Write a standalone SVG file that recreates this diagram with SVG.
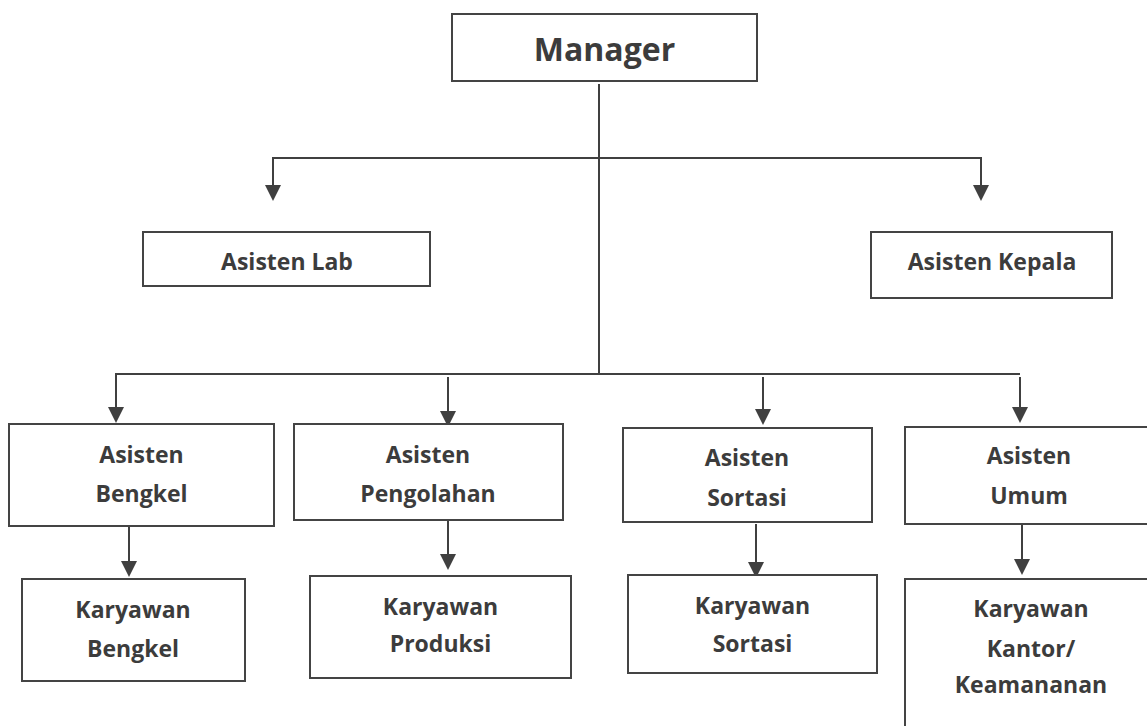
<svg xmlns="http://www.w3.org/2000/svg" width="1147" height="726" viewBox="0 0 1147 726">
  <style>
    .box { fill: #ffffff; stroke: #444444; stroke-width: 2; }
    .lbl { font-family: "Open Sans", "Noto Sans", "Liberation Sans", sans-serif; font-weight: bold; font-size: 23px; fill: #3c3c3c; text-anchor: middle; }
    .big { font-size: 32px; }
    .conn { fill: none; stroke: #404040; stroke-width: 2; }
  </style>
  <defs>
    <marker id="arrow" viewBox="0 0 16 16" refX="12" refY="8" markerWidth="16" markerHeight="16" markerUnits="userSpaceOnUse" orient="auto">
      <path d="M0,0 L16,8 L0,16 z" fill="#404040"/>
    </marker>
  </defs>
  <rect width="1147" height="726" fill="#ffffff"/>

  <g id="connectors">
    <line class="conn" x1="599" y1="84" x2="599" y2="374"/>
    <path class="conn" d="M599,158 L273,158 L273,197" marker-end="url(#arrow)"/>
    <path class="conn" d="M599,158 L981,158 L981,197" marker-end="url(#arrow)"/>
    <path class="conn" d="M1020,374 L116,374 L116,419" marker-end="url(#arrow)"/>
    <line class="conn" x1="448" y1="377" x2="448" y2="423" marker-end="url(#arrow)"/>
    <line class="conn" x1="763" y1="377" x2="763" y2="421" marker-end="url(#arrow)"/>
    <line class="conn" x1="1020" y1="377" x2="1020" y2="419" marker-end="url(#arrow)"/>
    <line class="conn" x1="129" y1="526" x2="129" y2="573" marker-end="url(#arrow)"/>
    <line class="conn" x1="448" y1="520" x2="448" y2="566" marker-end="url(#arrow)"/>
    <line class="conn" x1="756" y1="524" x2="756" y2="574" marker-end="url(#arrow)"/>
    <line class="conn" x1="1022" y1="524" x2="1022" y2="571" marker-end="url(#arrow)"/>
  </g>

  <g id="manager">
    <rect class="box" x="452" y="14" width="305" height="67"/>
    <text class="lbl big" x="604.5" y="61">Manager</text>
  </g>

  <g id="asisten-lab">
    <rect class="box" x="143" y="232" width="287" height="54"/>
    <text class="lbl" x="287" y="270">Asisten Lab</text>
  </g>

  <g id="asisten-kepala">
    <rect class="box" x="871" y="232" width="241" height="66"/>
    <text class="lbl" x="992" y="270">Asisten Kepala</text>
  </g>

  <g id="asisten-bengkel">
    <rect class="box" x="9" y="424" width="265" height="102"/>
    <text class="lbl" x="141.5" y="463">Asisten</text>
    <text class="lbl" x="141.5" y="502">Bengkel</text>
  </g>

  <g id="asisten-pengolahan">
    <rect class="box" x="294" y="424" width="269" height="96"/>
    <text class="lbl" x="428" y="463">Asisten</text>
    <text class="lbl" x="428" y="502">Pengolahan</text>
  </g>

  <g id="asisten-sortasi">
    <rect class="box" x="623" y="428" width="249" height="94"/>
    <text class="lbl" x="747" y="466">Asisten</text>
    <text class="lbl" x="747" y="506">Sortasi</text>
  </g>

  <g id="asisten-umum">
    <rect class="box" x="905" y="427" width="260" height="97"/>
    <text class="lbl" x="1029" y="464">Asisten</text>
    <text class="lbl" x="1029" y="504">Umum</text>
  </g>

  <g id="karyawan-bengkel">
    <rect class="box" x="22" y="579" width="223" height="102"/>
    <text class="lbl" x="133" y="618">Karyawan</text>
    <text class="lbl" x="133" y="657">Bengkel</text>
  </g>

  <g id="karyawan-produksi">
    <rect class="box" x="310" y="576" width="261" height="102"/>
    <text class="lbl" x="440.5" y="615">Karyawan</text>
    <text class="lbl" x="440.5" y="652">Produksi</text>
  </g>

  <g id="karyawan-sortasi">
    <rect class="box" x="628" y="575" width="249" height="98"/>
    <text class="lbl" x="752.5" y="614">Karyawan</text>
    <text class="lbl" x="752.5" y="652">Sortasi</text>
  </g>

  <g id="karyawan-kantor">
    <rect class="box" x="905" y="579" width="260" height="170"/>
    <text class="lbl" x="1031" y="617">Karyawan</text>
    <text class="lbl" x="1031" y="657">Kantor/</text>
    <text class="lbl" x="1031" y="693">Keamananan</text>
  </g>
</svg>
